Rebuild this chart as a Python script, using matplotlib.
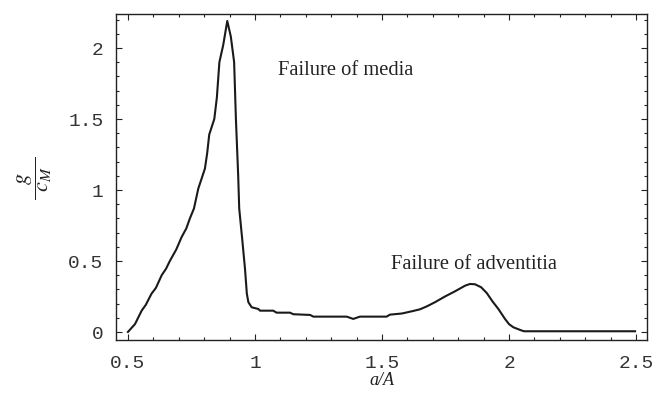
import matplotlib
matplotlib.use("Agg")
import matplotlib.pyplot as plt
from matplotlib.ticker import MultipleLocator

# curve (a/A, g/c_M)
a_A = [0.500, 0.510, 0.528, 0.554, 0.570, 0.593, 0.610, 0.633, 0.650, 0.665,
       0.690, 0.711, 0.730, 0.744, 0.760, 0.777, 0.790, 0.803, 0.812, 0.820,
       0.840, 0.850, 0.860, 0.875, 0.891, 0.905, 0.918, 0.925, 0.934, 0.938,
       0.950, 0.961, 0.968, 0.974, 0.987, 1.013, 1.020, 1.072, 1.085, 1.138,
       1.151, 1.217, 1.230, 1.361, 1.387, 1.413, 1.518, 1.531, 1.578, 1.623,
       1.650, 1.676, 1.709, 1.748, 1.787, 1.827, 1.846, 1.866, 1.890, 1.912,
       1.935, 1.958, 1.984, 2.000, 2.017, 2.050, 2.060, 2.496]
g_cM = [0.000, 0.020, 0.056, 0.150, 0.190, 0.270, 0.310, 0.400, 0.445, 0.500,
        0.580, 0.667, 0.730, 0.800, 0.870, 1.010, 1.080, 1.150, 1.260, 1.390,
        1.500, 1.650, 1.900, 2.020, 2.190, 2.080, 1.900, 1.500, 1.100, 0.870,
        0.650, 0.440, 0.270, 0.210, 0.174, 0.162, 0.150, 0.150, 0.136, 0.136,
        0.125, 0.120, 0.108, 0.108, 0.092, 0.108, 0.108, 0.122, 0.130, 0.148,
        0.160, 0.180, 0.210, 0.250, 0.286, 0.326, 0.338, 0.336, 0.315, 0.275,
        0.215, 0.162, 0.092, 0.055, 0.033, 0.010, 0.005, 0.005]

xticks = [0.5, 1, 1.5, 2, 2.5]
xticklabels = ["0.5", "1", "1.5", "2", "2.5"]
yticks = [0, 0.5, 1, 1.5, 2]
yticklabels = ["0", "0.5", "1", "1.5", "2"]

plt.rcParams['mathtext.fontset'] = 'stix'

fig = plt.figure(figsize=(6.56, 4.02), dpi=100)
ax = fig.add_axes([0.1768, 0.1505, 0.8095, 0.8122])

ax.plot(a_A, g_cM, color='#1a1a1a', lw=1.5)

ax.set_xlim(0.453, 2.543)
ax.set_ylim(-0.060, 2.239)

ax.set_xticks(xticks)
ax.set_xticklabels(xticklabels)
ax.set_yticks(yticks)
ax.set_yticklabels(yticklabels)
ax.xaxis.set_minor_locator(MultipleLocator(0.1))
ax.yaxis.set_minor_locator(MultipleLocator(0.1))

ax.tick_params(which='both', direction='in', top=True, right=True, color='#222222', width=0.8)
ax.tick_params(which='major', length=4)
ax.tick_params(which='minor', length=2.5)
ax.tick_params(axis='x', which='major', pad=10)
ax.tick_params(axis='y', which='major', pad=9)
for lab in ax.get_xticklabels() + ax.get_yticklabels():
    lab.set_fontfamily('Liberation Mono')
    lab.set_fontsize(14)
    lab.set_color('#333333')

for s in ax.spines.values():
    s.set_linewidth(1.0)
    s.set_color('#222222')

ax.text(1.358, 1.845, "Failure of media", fontfamily='Liberation Serif', fontsize=14.8,
        ha='center', va='center', color='#222222')
ax.text(1.862, 0.479, "Failure of adventitia", fontfamily='Liberation Serif', fontsize=14.8,
        ha='center', va='center', color='#222222')

ax.set_xlabel("a/A", fontfamily='Liberation Serif', fontstyle='italic', fontsize=13,
              color='#222222', labelpad=0)
ax.set_ylabel(r'$\dfrac{g}{\;\;c_M\;\;}$', fontsize=16, color='#222222', labelpad=10)

fig.savefig("out.png", dpi=100)
